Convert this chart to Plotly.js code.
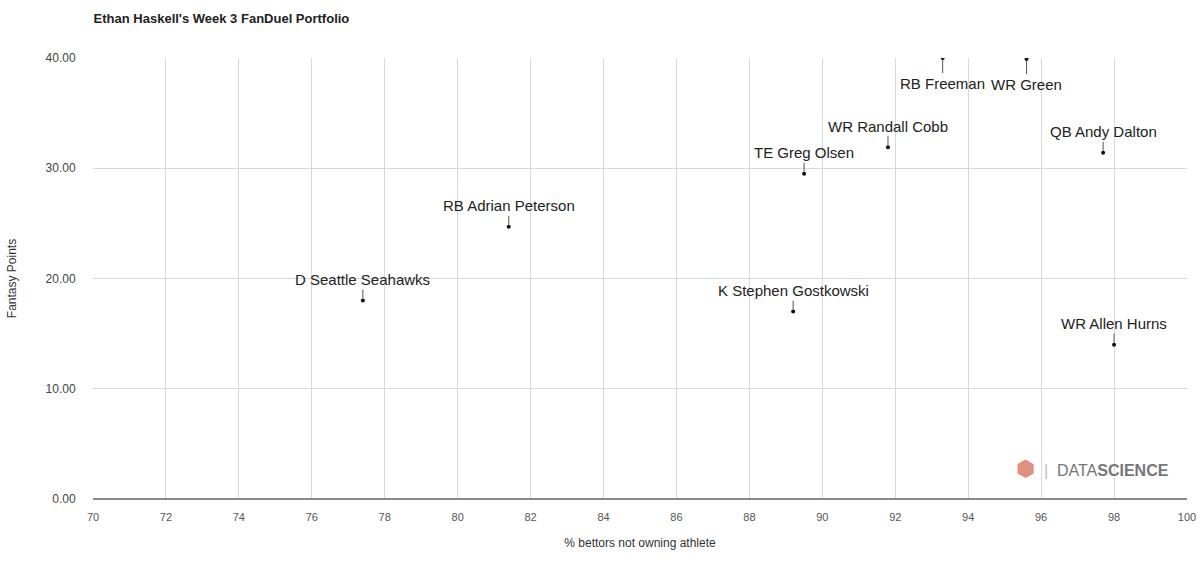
<!DOCTYPE html>
<html>
<head>
<meta charset="utf-8">
<script src="https://cdn.plot.ly/plotly-3.0.1.min.js"></script>
<style>html,body{margin:0;padding:0;background:#fff;}#chart{width:1200px;height:561px;}</style>
</head>
<body>
<div id="chart"></div>
<script>
var athletes = ["D Seattle Seahawks","RB Adrian Peterson","TE Greg Olsen","K Stephen Gostkowski","WR Randall Cobb","RB Freeman","WR Green","QB Andy Dalton","WR Allen Hurns"];
var pctNotOwning = [77.4, 81.4, 89.5, 89.2, 91.8, 93.3, 95.6, 97.7, 98.0];
var fantasyPoints = [18.0, 24.7, 29.5, 17.0, 31.9, 40.0, 39.9, 31.4, 14.0];
var labelBelow = [false,false,false,false,false,true,true,false,false];
var xTicks = [70,72,74,76,78,80,82,84,86,88,90,92,94,96,98,100];
var yTicks = [0,10,20,30,40];

var font = "Liberation Sans, Arial, sans-serif";
var annotations = athletes.map(function(n,i){
  return {x: pctNotOwning[i], y: fantasyPoints[i], xref:'x', yref:'y', text:n,
    showarrow:true, arrowhead:0, arrowwidth:1, arrowcolor:'#555', ax:0, ay: labelBelow[i]?25:-21,
    standoff:2, font:{family:font,size:15,color:'#222'}};
});
annotations.push({xref:'paper',yref:'paper',x:0.985,y:0.07,xanchor:'right',yanchor:'middle',showarrow:false,
  text:'<span style="color:#e0907f;font-size:22px">⬢</span>  <span style="color:#bbb">|</span>  DATA<b>SCIENCE</b>',font:{family:font,size:16,color:'#777'}});

var trace = {x: pctNotOwning, y: fantasyPoints, mode:'markers', type:'scatter',
  marker:{color:'#111', size:4}, hoverinfo:'skip'};

var layout = {
  width:1200, height:561,
  margin:{l:93, r:13, t:58, b:62},
  paper_bgcolor:'#fff', plot_bgcolor:'#fff',
  showlegend:false,
  title:{text:"<b>Ethan Haskell's Week 3 FanDuel Portfolio</b>", x:0.078, xanchor:'left', y:0.967, yanchor:'middle',
    font:{family:font,size:13,color:'#222'}},
  xaxis:{range:[70,100], tickvals:xTicks, ticktext:xTicks.map(String), showgrid:true, gridcolor:'#d9d9d9',
    zeroline:false, showline:false, ticks:'outside', ticklen:8, tickcolor:'rgba(0,0,0,0)', tickfont:{family:font,size:11,color:'#555'},
    title:{text:'% bettors not owning athlete', font:{family:font,size:12,color:'#333'}, standoff:16}},
  yaxis:{range:[0,40], tickvals:yTicks, ticktext:yTicks.map(function(v){return v.toFixed(2);}), showgrid:true, gridcolor:'#d9d9d9',
    zeroline:true, zerolinecolor:'#888', zerolinewidth:2, showline:false, ticks:'outside', ticklen:14, tickcolor:'rgba(0,0,0,0)', tickfont:{family:font,size:12,color:'#444'},
    title:{text:'Fantasy Points', font:{family:font,size:12,color:'#333'}, standoff:26}},
  annotations: annotations
};
Plotly.newPlot('chart',[trace],layout,{displayModeBar:false,staticPlot:true});
</script>
</body>
</html>
